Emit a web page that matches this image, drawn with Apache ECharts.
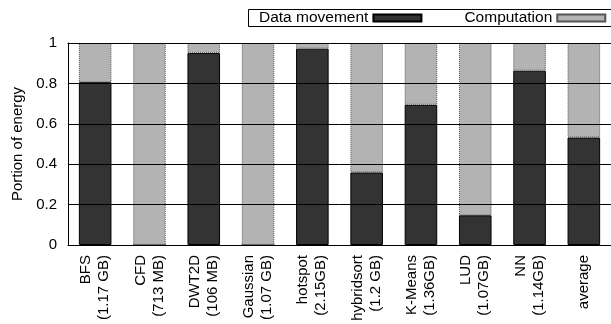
<!DOCTYPE html>
<html>
<head>
<meta charset="utf-8">
<script src="https://cdn.jsdelivr.net/npm/echarts@6/dist/echarts.min.js"></script>
<style>
  html, body { margin: 0; padding: 0; background: #fff; }
  #chart { width: 611px; height: 324px; }
</style>
</head>
<body>
<div id="chart"></div>
<script>
// Benchmarks (with input sizes) and the share of energy spent on data movement
const categories = [
  'BFS\n(1.17 GB)', 'CFD\n(713 MB)', 'DWT2D\n(106 MB)', 'Gaussian\n(1.07 GB)',
  'hotspot\n(2.15GB)', 'hybridsort\n(1.2 GB)', 'K-Means\n(1.36GB)', 'LUD\n(1.07GB)',
  'NN\n(1.14GB)', 'average'
];
const dataMovement = [0.806, 0, 0.95, 0, 0.972, 0.359, 0.694, 0.147, 0.863, 0.532];
const computation = [0.194, 1, 0.05, 1, 0.028, 0.641, 0.306, 0.853, 0.137, 0.468];
const yTicks = [0, 0.2, 0.4, 0.6, 0.8, 1];

const FONT = '"Liberation Sans", Arial, Helvetica, sans-serif';
const chart = echarts.init(document.getElementById('chart'), null, { renderer: 'canvas' });

chart.setOption({
  animation: false,
  backgroundColor: '#ffffff',
  textStyle: { fontFamily: FONT, color: '#000' },
  grid: { left: 68, right: -1, top: 43, bottom: 79, containLabel: false },
  graphic: [{
    type: 'rect',
    shape: { x: 248.5, y: 9.5, width: 400, height: 17 },
    style: { fill: 'none', stroke: '#000', lineWidth: 1 },
    z: 5
  }],
  legend: {
    left: 259,
    top: 9,
    align: 'right',
    icon: 'rect',
    itemWidth: 48,
    itemHeight: 7,
    itemGap: 42,
    padding: [1, 0, 0, 0],
    textStyle: { fontFamily: FONT, fontSize: 15.5, color: '#000' },
    data: ['Data movement', 'Computation']
  },
  xAxis: [{
    type: 'category',
    data: categories,
    z: 10,
    axisLine: { show: true, lineStyle: { color: '#000', width: 1 } },
    axisTick: { show: false },
    axisLabel: {
      rotate: 90,
      interval: 0,
      margin: 10,
      fontFamily: FONT,
      fontSize: 15,
      lineHeight: 18,
      color: '#000'
    }
  }, {
    type: 'category',
    position: 'top',
    data: categories,
    z: 10,
    axisLine: { show: true, lineStyle: { color: '#000', width: 1 } },
    axisTick: { show: false },
    axisLabel: { show: false }
  }],
  yAxis: {
    type: 'value',
    min: 0,
    max: 1,
    interval: 0.2,
    z: 10,
    name: 'Portion of energy',
    nameLocation: 'middle',
    nameRotate: 90,
    nameGap: 39,
    nameTextStyle: { fontFamily: FONT, fontSize: 15, color: '#000' },
    axisLine: { show: true, lineStyle: { color: '#000', width: 1 } },
    axisTick: { show: false },
    axisLabel: {
      margin: 11,
      fontFamily: FONT,
      fontSize: 15,
      color: '#000',
      formatter: v => yTicks.includes(Math.round(v * 10) / 10) ? String(Math.round(v * 10) / 10) : ''
    },
    splitLine: { show: true, lineStyle: { color: '#000', width: 1 } }
  },
  series: [{
    name: 'Data movement',
    type: 'bar',
    stack: 'energy',
    barWidth: '60%',
    data: dataMovement,
    itemStyle: { color: '#333333', borderColor: '#000', borderWidth: 1 }
  }, {
    name: 'Computation',
    type: 'bar',
    stack: 'energy',
    barWidth: '60%',
    data: computation,
    itemStyle: { color: '#b3b3b3', borderColor: '#555', borderWidth: 1, borderType: 'dotted' }
  }]
});
</script>
</body>
</html>
